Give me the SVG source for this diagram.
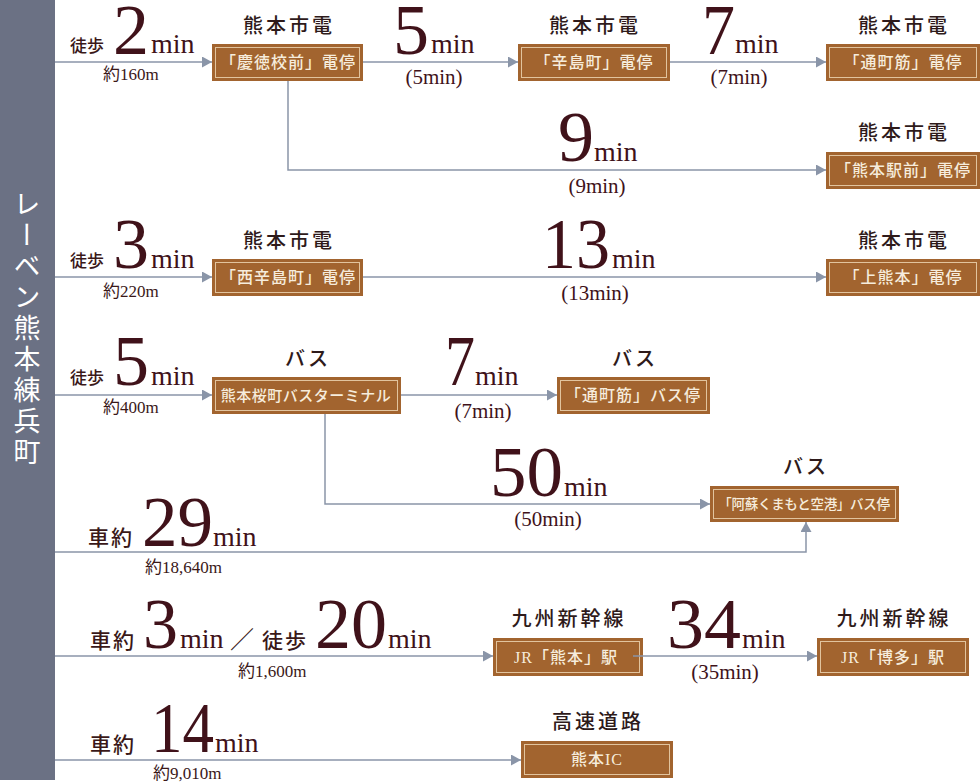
<svg xmlns="http://www.w3.org/2000/svg" width="980" height="782" viewBox="0 0 980 782">
<defs>
<style>
text{font-family:"Liberation Serif","Noto Sans CJK JP",serif;}
.big{font-size:72px;fill:#40121a;}
.min{font-size:28px;fill:#40121a;}
.par{font-size:21px;fill:#40121a;text-anchor:middle;}
.walk{font-size:17px;fill:#3a1818;font-weight:500;}
.car{font-size:21px;fill:#3a1818;letter-spacing:2px;font-weight:500;}
.dist{font-size:17px;fill:#3a1818;}
.cap{font-size:20px;fill:#2e1a1a;text-anchor:middle;letter-spacing:3px;font-weight:500;}
.btxt{font-size:16px;fill:#f6ecdc;text-anchor:middle;letter-spacing:1px;font-weight:500;}
.box{fill:#a2642f;}
.inner{fill:none;stroke:#e2c49e;stroke-width:1;}
.ln{fill:none;stroke:#8a95a8;stroke-width:1.5;marker-end:url(#ah);}
.ln0{fill:none;stroke:#8a95a8;stroke-width:1.5;}
</style>
<marker id="ah" markerUnits="userSpaceOnUse" markerWidth="11" markerHeight="11" refX="10" refY="5.5" orient="auto">
<path d="M0,0 L10,5.5 L0,11 z" fill="#8a95a8"/>
</marker>
</defs>
<rect width="980" height="782" fill="#ffffff"/>

<g id="origin">
<rect x="0" y="0" width="55" height="780" fill="#6b7184"/>
<text x="27" y="190" style="writing-mode:vertical-rl;font-family:'Noto Sans CJK JP',sans-serif;font-size:27px;letter-spacing:4px;fill:#ffffff;">レーベン熊本練兵町</text>
</g>

<g id="labels">
<text class="walk" x="70" y="52">徒歩</text>
<text class="big" x="113" y="54">2</text>
<text class="min" x="151" y="53">min</text>
<text class="dist" x="103" y="80">約160m</text>
<text class="big" x="393" y="54">5</text>
<text class="min" x="431" y="53">min</text>
<text class="par" x="434" y="84">(5min)</text>
<text class="big" x="702" y="54" textLength="33" lengthAdjust="spacingAndGlyphs">7</text>
<text class="min" x="735" y="53">min</text>
<text class="par" x="739" y="84">(7min)</text>
<text class="big" x="558" y="161">9</text>
<text class="min" x="594" y="161">min</text>
<text class="par" x="597" y="193">(9min)</text>

<text class="walk" x="70" y="267">徒歩</text>
<text class="big" x="113" y="268">3</text>
<text class="min" x="151" y="268">min</text>
<text class="dist" x="103" y="297">約220m</text>
<text class="big" x="542" y="268" textLength="68" lengthAdjust="spacingAndGlyphs">13</text>
<text class="min" x="612" y="268">min</text>
<text class="par" x="595" y="300">(13min)</text>

<text class="walk" x="70" y="384">徒歩</text>
<text class="big" x="113" y="385">5</text>
<text class="min" x="151" y="385">min</text>
<text class="dist" x="103" y="413">約400m</text>
<text class="big" x="445" y="385" textLength="30" lengthAdjust="spacingAndGlyphs">7</text>
<text class="min" x="475" y="385">min</text>
<text class="par" x="483" y="418">(7min)</text>
<text class="big" x="490" y="496" textLength="73" lengthAdjust="spacingAndGlyphs">50</text>
<text class="min" x="564" y="496">min</text>
<text class="par" x="548" y="526">(50min)</text>

<text class="car" x="88" y="545">車約</text>
<text class="big" x="142" y="546" textLength="71" lengthAdjust="spacingAndGlyphs">29</text>
<text class="min" x="213" y="546">min</text>
<text class="dist" x="145" y="573">約18,640m</text>

<text class="car" x="90" y="648">車約</text>
<text class="big" x="143" y="648" textLength="35" lengthAdjust="spacingAndGlyphs">3</text>
<text class="min" x="180" y="648">min</text>
<text style="font-size:24px;fill:#3a1818;" x="230" y="648">／</text>
<text class="car" x="262" y="648">徒歩</text>
<text class="big" x="315" y="648" textLength="72" lengthAdjust="spacingAndGlyphs">20</text>
<text class="min" x="388" y="648">min</text>
<text class="dist" x="238" y="677">約1,600m</text>
<text class="big" x="667" y="648" textLength="74" lengthAdjust="spacingAndGlyphs">34</text>
<text class="min" x="742" y="648">min</text>
<text class="par" x="725" y="679">(35min)</text>

<text class="car" x="90" y="752">車約</text>
<text class="big" x="151" y="752" textLength="63" lengthAdjust="spacingAndGlyphs">14</text>
<text class="min" x="215" y="752">min</text>
<text class="dist" x="153" y="779">約9,010m</text>
</g>

<g id="n-keitoku">
<text class="cap" x="289" y="33">熊本市電</text>
<rect class="box" x="212" y="44" width="151" height="37"/>
<rect class="inner" x="215.5" y="47.5" width="144" height="30"/>
<text class="btxt" x="288" y="68">「慶徳校前」電停</text>
</g>
<g id="n-karashima">
<text class="cap" x="595" y="33">熊本市電</text>
<rect class="box" x="518" y="44" width="152" height="37"/>
<rect class="inner" x="521.5" y="47.5" width="145" height="30"/>
<text class="btxt" x="594" y="68">「辛島町」電停</text>
</g>
<g id="n-torichosuji">
<text class="cap" x="904" y="33">熊本市電</text>
<rect class="box" x="826" y="44" width="154" height="37"/>
<rect class="inner" x="829.5" y="47.5" width="147" height="30"/>
<text class="btxt" x="903" y="68">「通町筋」電停</text>
</g>
<g id="n-ekimae">
<text class="cap" x="904" y="140">熊本市電</text>
<rect class="box" x="826" y="152" width="154" height="37"/>
<rect class="inner" x="829.5" y="155.5" width="147" height="30"/>
<text class="btxt" x="903" y="176">「熊本駅前」電停</text>
</g>
<g id="n-nishikarashima">
<text class="cap" x="289" y="248">熊本市電</text>
<rect class="box" x="212" y="259" width="151" height="37"/>
<rect class="inner" x="215.5" y="262.5" width="144" height="30"/>
<text class="btxt" x="288" y="283">「西辛島町」電停</text>
</g>
<g id="n-kamikumamoto">
<text class="cap" x="904" y="248">熊本市電</text>
<rect class="box" x="826" y="259" width="154" height="37"/>
<rect class="inner" x="829.5" y="262.5" width="147" height="30"/>
<text class="btxt" x="903" y="283">「上熊本」電停</text>
</g>
<g id="n-busterminal">
<text class="cap" x="308" y="366">バス</text>
<rect class="box" x="212" y="377" width="189" height="37"/>
<rect class="inner" x="215.5" y="380.5" width="182" height="30"/>
<text class="btxt" x="306" y="401" style="font-size:15px;letter-spacing:0.5px">熊本桜町バスターミナル</text>
</g>
<g id="n-torichosuji-bus">
<text class="cap" x="635" y="366">バス</text>
<rect class="box" x="557" y="377" width="153" height="37"/>
<rect class="inner" x="560.5" y="380.5" width="146" height="30"/>
<text class="btxt" x="633" y="401">「通町筋」バス停</text>
</g>
<g id="n-airport">
<text class="cap" x="806" y="474">バス</text>
<rect class="box" x="710" y="486" width="189" height="36"/>
<rect class="inner" x="713.5" y="489.5" width="182" height="29"/>
<text class="btxt" x="804" y="509" style="font-size:13.5px;letter-spacing:-0.3px">「阿蘇くまもと空港」バス停</text>
</g>
<g id="n-jr-kumamoto">
<text class="cap" x="569" y="626">九州新幹線</text>
<rect class="box" x="493" y="638" width="150" height="38"/>
<rect class="inner" x="496.5" y="641.5" width="143" height="31"/>
<text class="btxt" x="566" y="663">JR「熊本」駅</text>
</g>
<g id="n-jr-hakata">
<text class="cap" x="894" y="626">九州新幹線</text>
<rect class="box" x="817" y="638" width="152" height="38"/>
<rect class="inner" x="820.5" y="641.5" width="145" height="31"/>
<text class="btxt" x="893" y="663">JR「博多」駅</text>
</g>
<g id="n-kumamoto-ic">
<text class="cap" x="598" y="729">高速道路</text>
<rect class="box" x="521" y="741" width="152" height="37"/>
<rect class="inner" x="524.5" y="744.5" width="145" height="30"/>
<text class="btxt" x="597" y="765">熊本IC</text>
</g>

<g id="connectors">
<path class="ln" d="M55,62 H212"/>
<path class="ln" d="M363,62 H518"/>
<path class="ln" d="M670,62 H826"/>
<path class="ln" d="M288,81 V170 H826"/>
<path class="ln" d="M55,277 H212"/>
<path class="ln" d="M363,277 H826"/>
<path class="ln" d="M55,395 H212"/>
<path class="ln" d="M401,395 H557"/>
<path class="ln" d="M325,414 V504 H710"/>
<path class="ln" d="M55,552 H806 V522"/>
<path class="ln" d="M55,656 H493"/>
<path class="ln" d="M633,656 H817"/>
<path class="ln" d="M55,760 H521"/>
</g>
</svg>
